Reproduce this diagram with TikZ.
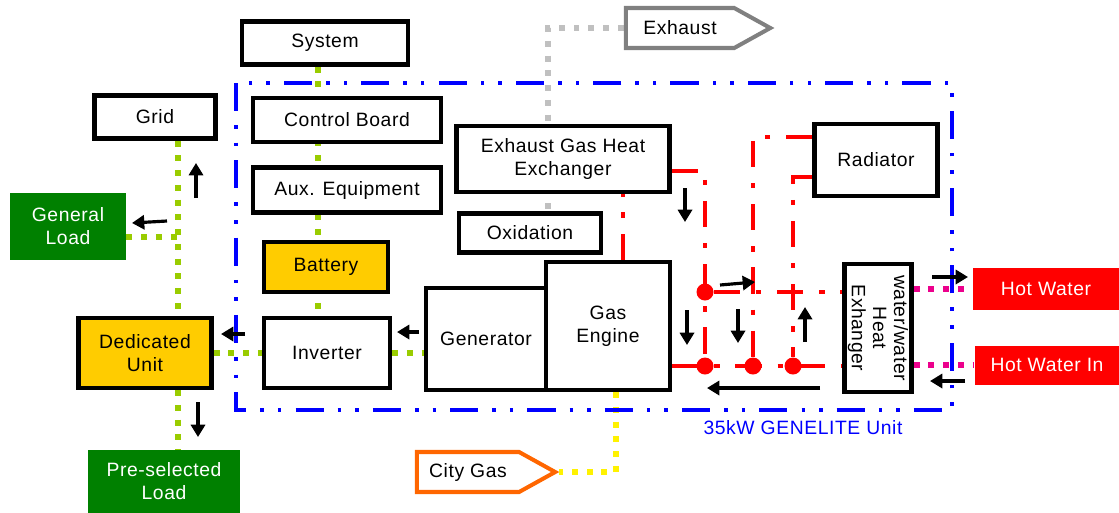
\documentclass[tikz,border=0pt]{standalone}
\usepackage{fontspec}
\setmainfont{Liberation Sans}[LetterSpace=3]
\usetikzlibrary{arrows.meta,shapes.symbols,backgrounds,calc}
\definecolor{busGreen}{HTML}{99CC00}
\definecolor{loadGreen}{HTML}{008000}
\definecolor{storeGold}{HTML}{FFCC00}
\definecolor{gasOrange}{HTML}{FF6600}
\definecolor{fumeGray}{HTML}{C0C0C0}
\definecolor{fumeEdge}{HTML}{808080}
\newcommand\boxfont{\fontsize{11}{13}\selectfont}
\newcommand\tightfont{\fontsize{11}{12}\selectfont}

\tikzset{
  unit/.style={draw, line width=2.4pt, fill=white, align=center, inner sep=1pt, font=\boxfont},
  store/.style={unit, fill=storeGold},
  load/.style={fill=loadGreen, text=white, align=center, inner sep=1pt, font=\boxfont},
  tap/.style={fill=red, text=white, align=center, inner sep=1pt, font=\boxfont},
  port/.style={signal, signal to=east, signal pointer angle=58, draw, line width=2.3pt,
    fill=white, inner ysep=0pt, minimum height=0.8cm, font=\boxfont},
  bus/.style={busGreen, line width=3.4pt, dash pattern=on 3.4pt off 5pt},
  fume/.style={bus, fumeGray},
  gasline/.style={bus, yellow},
  tapline/.style={bus, magenta},
  loop/.style={red, line width=2.8pt, dash pattern=on 15pt off 9pt on 3pt off 9pt},
  jdot/.style={circle, fill=red, inner sep=0pt, minimum size=0.34cm},
  flow/.style={-{Triangle[length=7pt,width=8pt]}, line width=1.8pt},
  unitframe/.style={blue, line width=2.6pt, dash pattern=on 16pt off 8pt on 2pt off 8pt on 2pt off 8pt}
}

\begin{document}
\begin{tikzpicture}[x=0.02cm, y=-0.02cm]
  \useasboundingbox (0,0) rectangle (1119,512);
  % GENELITE unit boundary
  \draw[unitframe] (236,83) rectangle (952,410);
  \node[blue, font=\boxfont] (unitlabel) at (803,428) {35kW GENELITE Unit};

  % electrical side
  \node[unit, minimum width=3.32cm, minimum height=0.86cm] (sys) at (325,43) {System};
  \node[unit, minimum width=2.42cm, minimum height=0.86cm] (grid) at (155,117) {Grid};
  \node[unit, minimum width=3.76cm, minimum height=0.88cm] (ctrl) at (347,120) {Control Board};
  \node[unit, minimum width=3.76cm, minimum height=0.90cm] (aux) at (347,190) {Aux. Equipment};
  \node[store, minimum width=2.48cm, minimum height=1.00cm] (batt) at (326,267) {Battery};
  \node[unit, minimum width=2.52cm, minimum height=1.40cm] (inv) at (327,353) {Inverter};
  \node[store, minimum width=2.66cm, minimum height=1.40cm] (ded) at (145,353) {Dedicated\\Unit};
  \node[load, minimum width=2.32cm, minimum height=1.34cm] (genload) at (68,226) {General\\Load};
  \node[load, minimum width=3.04cm, minimum height=1.26cm] (preload) at (164,481) {Pre-selected\\Load};
  \node[unit, minimum width=2.40cm, minimum height=2.04cm] (gen) at (486,339) {Generator};

  % engine and heat side
  \node[unit, minimum width=2.48cm, minimum height=2.56cm] (eng) at (608,326) {Gas\\Engine};
  \node[unit, minimum width=2.84cm, minimum height=0.78cm] (oxi) at (530,233) {Oxidation};
  \node[unit, minimum width=4.26cm, minimum height=1.32cm] (eghx) at (563,159) {Exhaust Gas Heat\\Exchanger};
  \node[unit, minimum width=2.46cm, minimum height=1.44cm] (rad) at (876,160) {Radiator};
  \node[unit, rotate=-90, minimum width=2.56cm, minimum height=1.34cm, font=\tightfont]
    (whx) at (878,328) {water/water\\Heat\\Exhanger};
  \node[tap, minimum width=2.94cm, minimum height=0.84cm] (hw) at (1046,289) {Hot Water};
  \node[tap, minimum width=2.90cm, minimum height=0.78cm] (hwin) at (1047,365) {Hot Water In};
  \node[port, draw=fumeEdge, inner xsep=10pt] (exhaust) at (680,28) {Exhaust};
  \node[port, draw=gasOrange, inner xsep=7pt] (gas) at (468,472) {City Gas};

  % junction dots of the water loop
  \node[jdot] (ja) at (705,292) {};
  \node[jdot] (jb) at (705,366) {};
  \node[jdot] (jc) at (753,366) {};
  \node[jdot] (jd) at (793,366) {};

  \begin{scope}[on background layer]
    % power bus
    \coordinate (busx) at (318,0);
    \coordinate (gridx) at (178,0);
    \draw[bus] (busx |- sys.south) -- (busx |- inv.north);
    \draw[bus] (gridx |- grid.south) -- (gridx |- ded.north);
    \draw[bus] (genload.east |- 0,237) -- (gridx |- 0,237);
    \draw[bus] (gridx |- ded.south) -- (gridx |- preload.north);
    \draw[bus] (ded.east) -- (inv.west);
    \draw[bus] (inv.east) -- (gen.west |- inv.east);
    % exhaust and gas
    \coordinate (fumex) at (548,0);
    \coordinate (gasx) at (616,0);
    \draw[fume] (exhaust.west) -| (fumex |- eng.north);
    \draw[gasline] (gasx |- eng.south) |- (gas.east);
    % hot water taps
    \draw[tapline] (whx.north |- hw.west) -- (hw.west);
    \draw[tapline] (whx.north |- hwin.west) -- (hwin.west);
    % cooling water loop
    \coordinate (loopx) at (623,0);
    \draw[loop] (loopx |- eng.north) -- (loopx |- eghx.south);
    \draw[loop] (eghx.east |- 0,171) -| (jb);
    \draw[loop] (eng.east |- jb) -- (whx.south |- jb);
    \draw[loop] (ja) -- (whx.south |- ja);
    \draw[loop] (rad.west |- 0,137) -| (jc);
    \draw[loop] (rad.west |- 0,177) -| (jd);
  \end{scope}

  % flow direction arrows
  \foreach \xa/\ya/\xb/\yb in {196/198/196/163, 167/221/132/223, 245/334/221/334,
      198/402/198/437, 419/332/397/332, 685/188/685/222, 687/310/687/345,
      720/285/755/282, 738/309/738/343, 805/342/805/307, 820/388/707/388,
      932/277/968/277, 965/381/930/381}
    \draw[flow] (\xa,\ya) -- (\xb,\yb);
\end{tikzpicture}
\end{document}
